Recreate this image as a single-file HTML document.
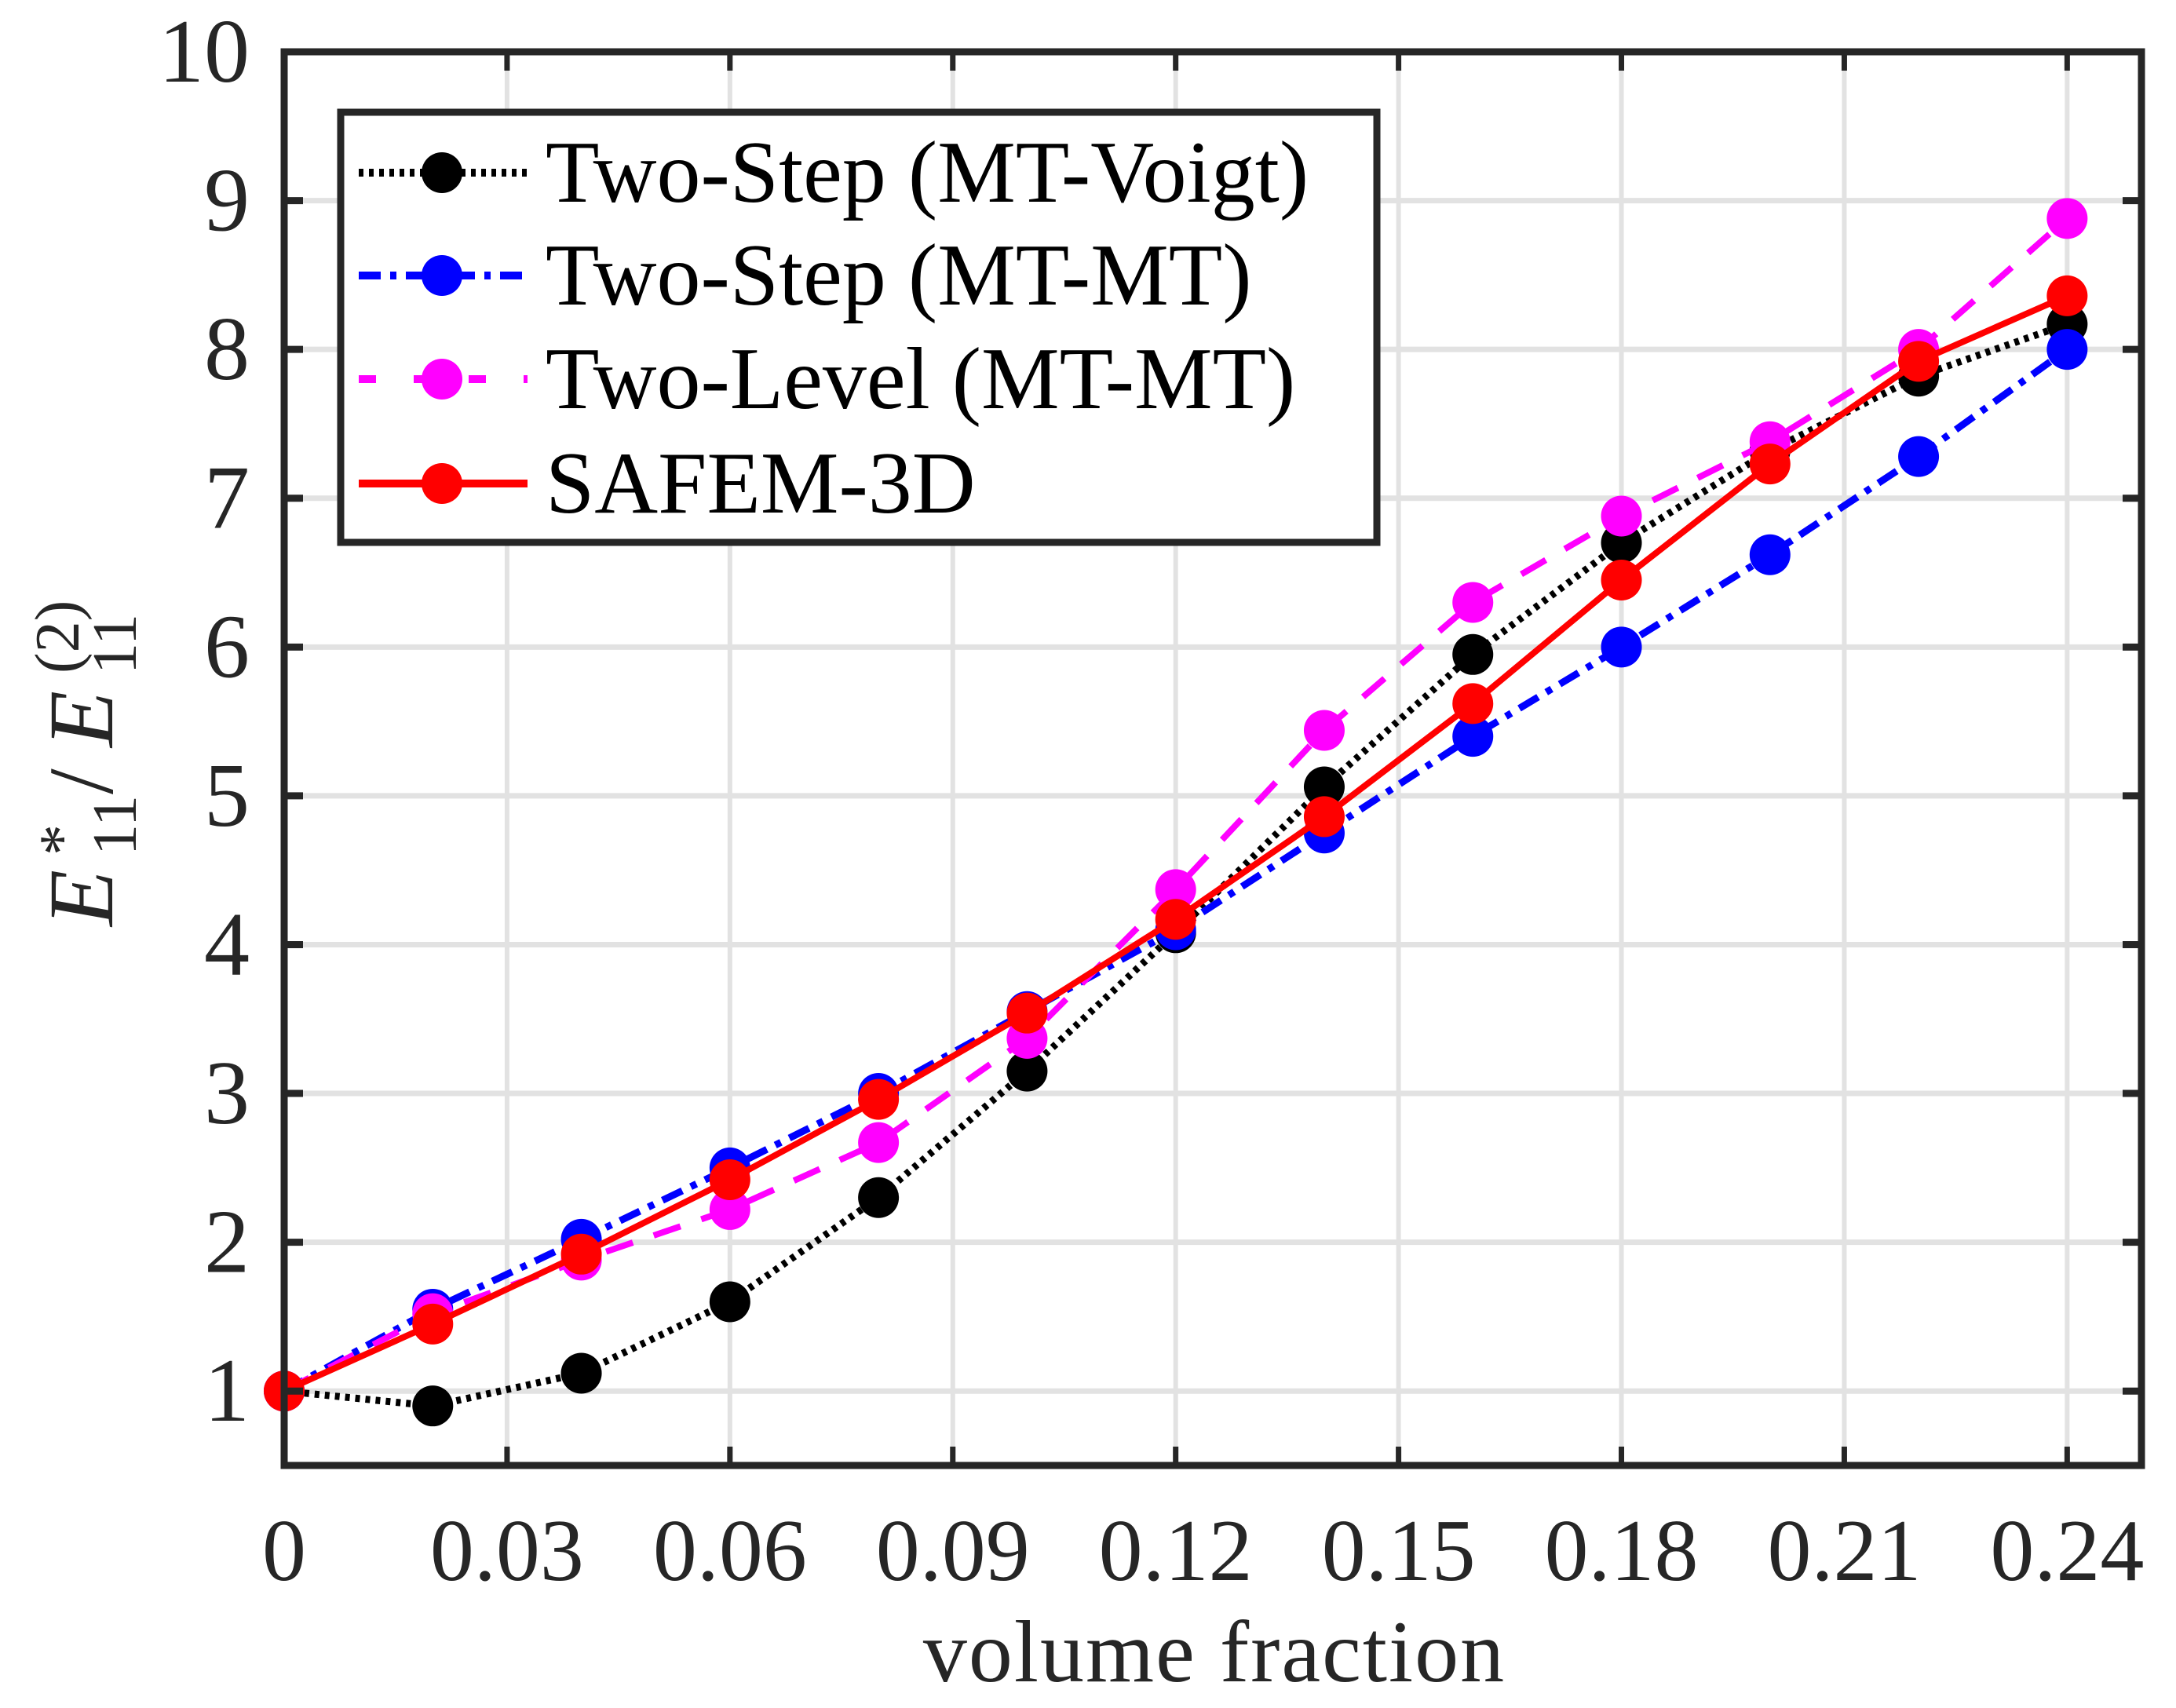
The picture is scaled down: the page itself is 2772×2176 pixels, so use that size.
<!DOCTYPE html>
<html><head><meta charset="utf-8"><style>html,body{margin:0;padding:0;background:#fff}svg{display:block}</style></head>
<body>
<svg id="chart" width="2772" height="2176" viewBox="0 0 2772 2176" xmlns="http://www.w3.org/2000/svg" font-family="'Liberation Serif', serif">
<rect width="2772" height="2176" fill="#fff"/>
<g id="grid"></g>
<g id="series"></g>
<rect x="362" y="66" width="2366" height="1801" fill="none" stroke="#262626" stroke-width="9"/>
<g id="ticks"></g>
<text x="1547" y="2142" font-size="112" text-anchor="middle" fill="#262626" letter-spacing="2">volume  fraction</text>
<g transform="translate(143,1180) rotate(-90)" fill="#262626">
<text x="0" y="0" font-size="118" font-style="italic">E</text>
<text x="90" y="-38" font-size="80">*</text>
<text x="90" y="30" font-size="80">11</text>
<text x="168" y="0" font-size="118">/</text>
<text x="228" y="0" font-size="118" font-style="italic">E</text>
<text x="322" y="-43" font-size="80">(2)</text>
<text x="321" y="30" font-size="80">11</text>
</g>
<g>
<rect x="434" y="143" width="1320" height="548" fill="#fff" stroke="#262626" stroke-width="9"/>
<g id="legend-entries"></g>
</g>
</svg>
<script>
const xValues = [0,0.02,0.04,0.06,0.08,0.10,0.12,0.14,0.16,0.18,0.20,0.22,0.24];
const voigtValues = [1,0.9,1.12,1.6,2.3,3.15,4.08,5.06,5.95,6.7,7.32,7.82,8.17];
const mtmtValues = [1,1.55,2.02,2.5,3.0,3.55,4.1,4.75,5.4,6.0,6.62,7.28,8.0];
const levelValues = [1,1.52,1.88,2.22,2.67,3.37,4.37,5.44,6.3,6.88,7.38,8.0,8.88];
const safemValues = [1,1.45,1.92,2.42,2.96,3.54,4.17,4.86,5.62,6.45,7.23,7.92,8.36];
const xTicks = [0,0.03,0.06,0.09,0.12,0.15,0.18,0.21,0.24];
const xTickLabels = ["0","0.03","0.06","0.09","0.12","0.15","0.18","0.21","0.24"];
const yTicks = [1,2,3,4,5,6,7,8,9,10];
const legendLabels = ["Two-Step (MT-Voigt)","Two-Step (MT-MT)","Two-Level (MT-MT)","SAFEM-3D"];

const NS="http://www.w3.org/2000/svg";
const X0=362,X1=2728,Y0=1867,Y1=66,xmin=0,xmax=0.25,ymin=0.5,ymax=10;
const sx=v=>X0+(v-xmin)/(xmax-xmin)*(X1-X0);
const sy=v=>Y0-(v-ymin)/(ymax-ymin)*(Y0-Y1);
function mk(tag,attrs,parent){const e=document.createElementNS(NS,tag);for(const k in attrs)e.setAttribute(k,attrs[k]);parent.appendChild(e);return e;}
const grid=document.getElementById('grid'),ticks=document.getElementById('ticks'),series=document.getElementById('series');
xTicks.forEach((t,i)=>{
  const x=sx(t);
  if(i>0){const g=mk('line',{x1:x,x2:x,y1:Y1,y2:Y0,stroke:'#e2e2e2','stroke-width':6},grid);
  
  }
  [[Y0,Y0-24],[Y1,Y1+24]].forEach(p=>{mk('line',{x1:x,x2:x,y1:p[0],y2:p[1],stroke:'#262626','stroke-width':7},ticks);});
  const l=mk('text',{x:x,y:2013,'font-size':112,'text-anchor':'middle',fill:'#262626'},ticks);
  l.textContent=xTickLabels[i];
  
  
});
yTicks.forEach(t=>{
  const y=sy(t);
  if(t<10){const g=mk('line',{x1:X0,x2:X1,y1:y,y2:y,stroke:'#e2e2e2','stroke-width':7},grid);
  
  }
  [[X0,X0+24],[X1,X1-24]].forEach(p=>{mk('line',{x1:p[0],x2:p[1],y1:y,y2:y,stroke:'#262626','stroke-width':9},ticks);});
  const l=mk('text',{x:318,y:y+38,'font-size':116,'text-anchor':'end',fill:'#262626'},ticks);
  l.textContent=String(t);
  
  
});
const styles=[
  {vals:voigtValues,color:'#000000',dash:'6 7',w:9,name:'series-mt-voigt'},
  {vals:mtmtValues,color:'#0000ff',dash:'28 12 8 12',w:9,name:'series-mt-mt'},
  {vals:levelValues,color:'#ff00ff',dash:'36 28',w:8,name:'series-two-level'},
  {vals:safemValues,color:'#ff0000',dash:'none',w:8,name:'series-safem-3d'}];
styles.forEach(s=>{
  const g=mk('g',{},series);
  
  
  const pts=xValues.map((x,i)=>sx(x)+','+sy(s.vals[i])).join(' ');
  mk('polyline',{points:pts,fill:'none',stroke:s.color,'stroke-width':s.w,'stroke-dasharray':s.dash},g);
  xValues.forEach((x,i)=>{
    const c=mk('circle',{cx:sx(x),cy:sy(s.vals[i]),r:26,fill:s.color},g);
    
    
  });
});
const le=document.getElementById('legend-entries');
const ly=[220,351,483,616];
styles.forEach((s,i)=>{
  const g=mk('g',{},le);
  
  
  mk('line',{x1:457,x2:672,y1:ly[i],y2:ly[i],stroke:s.color,'stroke-width':10,'stroke-dasharray':s.dash==='36 28'?'22 48':s.dash},g);
  mk('circle',{cx:563,cy:ly[i],r:26,fill:s.color},g);
  const t=mk('text',{x:695,y:ly[i]+37,'font-size':112,fill:'#000'},g);
  t.textContent=legendLabels[i];
});
</script>
</body></html>
